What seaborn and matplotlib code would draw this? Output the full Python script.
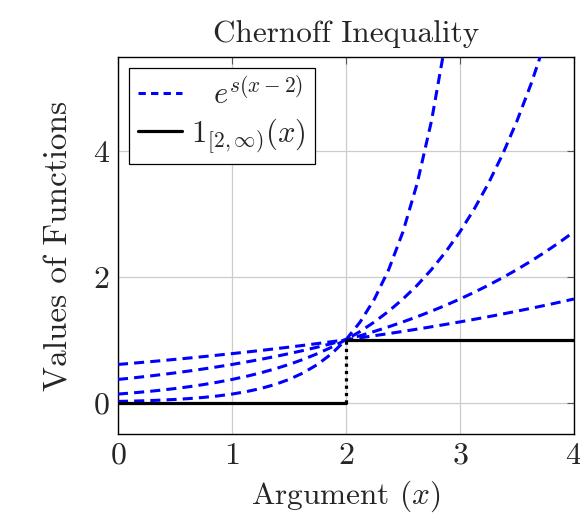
import matplotlib
matplotlib.use("Agg")
import matplotlib.pyplot as plt
from matplotlib.lines import Line2D
import seaborn as sns
import pandas as pd

# sample points along the argument axis (step 1/8)
x_vals = [0, 0.125, 0.25, 0.375, 0.5, 0.625, 0.75, 0.875, 1, 1.125, 1.25, 1.375,
          1.5, 1.625, 1.75, 1.875, 2, 2.125, 2.25, 2.375, 2.5, 2.625, 2.75, 2.875,
          3, 3.125, 3.25, 3.375, 3.5, 3.625, 3.75, 3.875, 4]

# blue dashed curves e^{s(x-2)}, s = 0.25, 0.5, 1, 2
curve_s025 = [0.6065, 0.6258, 0.6456, 0.6661, 0.6873, 0.7091, 0.7316, 0.7548,
              0.7788, 0.8035, 0.8290, 0.8553, 0.8825, 0.9105, 0.9394, 0.9692,
              1.0000, 1.0317, 1.0645, 1.0983, 1.1331, 1.1691, 1.2062, 1.2445,
              1.2840, 1.3248, 1.3668, 1.4102, 1.4550, 1.5012, 1.5488, 1.5980, 1.6487]
curve_s05 = [0.3679, 0.3916, 0.4169, 0.4437, 0.4724, 0.5028, 0.5353, 0.5698,
             0.6065, 0.6456, 0.6873, 0.7316, 0.7788, 0.8290, 0.8825, 0.9394,
             1.0000, 1.0645, 1.1331, 1.2062, 1.2840, 1.3668, 1.4550, 1.5488,
             1.6487, 1.7551, 1.8682, 1.9887, 2.1170, 2.2535, 2.3989, 2.5536, 2.7183]
curve_s1 = [0.1353, 0.1534, 0.1738, 0.1969, 0.2231, 0.2528, 0.2865, 0.3247,
            0.3679, 0.4169, 0.4724, 0.5353, 0.6065, 0.6873, 0.7788, 0.8825,
            1.0000, 1.1331, 1.2840, 1.4550, 1.6487, 1.8682, 2.1170, 2.3989,
            2.7183, 3.0802, 3.4903, 3.9551, 4.4817, 5.0784, 5.7546, 6.5208, 7.3891]
curve_s2 = [0.0183, 0.0235, 0.0302, 0.0388, 0.0498, 0.0639, 0.0821, 0.1054,
            0.1353, 0.1738, 0.2231, 0.2865, 0.3679, 0.4724, 0.6065, 0.7788,
            1.0000, 1.2840, 1.6487, 2.1170, 2.7183, 3.4903, 4.4817, 5.7546,
            7.3891, 9.4877, 12.18, 15.64, 20.09, 25.79, 33.12, 42.52, 54.60]

# indicator function 1_[2,inf)(x)
step_low_x = [0, 2]
step_low_y = [0, 0]
step_high_x = [2, 4]
step_high_y = [1, 1]
jump_x = [2, 2]
jump_y = [0, 1]

x_ticks = [0, 1, 2, 3, 4]
y_ticks = [0, 2, 4]

sns.set_style("white")
plt.rcParams["font.family"] = "serif"
plt.rcParams["font.serif"] = ["cmr10", "DejaVu Serif"]
plt.rcParams["mathtext.fontset"] = "cm"
plt.rcParams["axes.formatter.use_mathtext"] = True

fig = plt.figure(figsize=(5.8, 5.22), dpi=100)
ax = fig.add_axes([0.2034, 0.1686, 0.7862, 0.7222])

n = len(x_vals)
curves = pd.DataFrame({"x": x_vals * 4,
                       "y": curve_s025 + curve_s05 + curve_s1 + curve_s2,
                       "s": ["0.25"] * n + ["0.5"] * n + ["1"] * n + ["2"] * n})
blue_dash = (3.3, 2.0)
for s_val, grp in curves.groupby("s"):
    sns.lineplot(data=grp, x="x", y="y", ax=ax, color="#0000ff", linewidth=2.2,
                 legend=False, zorder=3)
    ax.lines[-1].set_dashes(blue_dash)

sns.lineplot(x=step_low_x, y=step_low_y, ax=ax, color="black", linewidth=2.3, zorder=4)
sns.lineplot(x=step_high_x, y=step_high_y, ax=ax, color="black", linewidth=2.3, zorder=4)
ax.plot(jump_x, jump_y, color="black", linewidth=2.3, linestyle=(0, (1.0, 1.3)), zorder=4)

ax.set_xlim(0, 4)
ax.set_ylim(-0.5, 5.5)
ax.set_xticks(x_ticks)
ax.set_yticks(y_ticks)
ax.grid(True, color="#cccccc", linewidth=0.9)
ax.tick_params(direction="in", length=5, width=0.8, top=True, right=True,
               labelsize=23, pad=6, color="#555555")
for sp in ax.spines.values():
    sp.set_color("black")
    sp.set_linewidth(1.0)

ax.set_xlabel("Argument $(x)$", fontsize=22.5, labelpad=6)
ax.set_ylabel("Values of Functions", fontsize=24, labelpad=14)
ax.set_title("Chernoff Inequality", fontsize=22.5, pad=11)

handles = [Line2D([0], [0], color="#0000ff", linewidth=2.2, dashes=(2.4, 1.7)),
           Line2D([0], [0], color="black", linewidth=2.3)]
labels = [r"$\;\;\;e^{s(x-2)}$", r"$\mathbf{1}_{[2,\infty)}(x)$"]
leg = ax.legend(handles, labels, loc="upper left", fontsize=22, frameon=True,
                fancybox=False, edgecolor="black", framealpha=1,
                borderaxespad=0.35, handlelength=1.45, handletextpad=0.3,
                labelspacing=0.2, borderpad=0.3)
leg.get_frame().set_linewidth(0.9)

fig.savefig("out.png", dpi=100)
